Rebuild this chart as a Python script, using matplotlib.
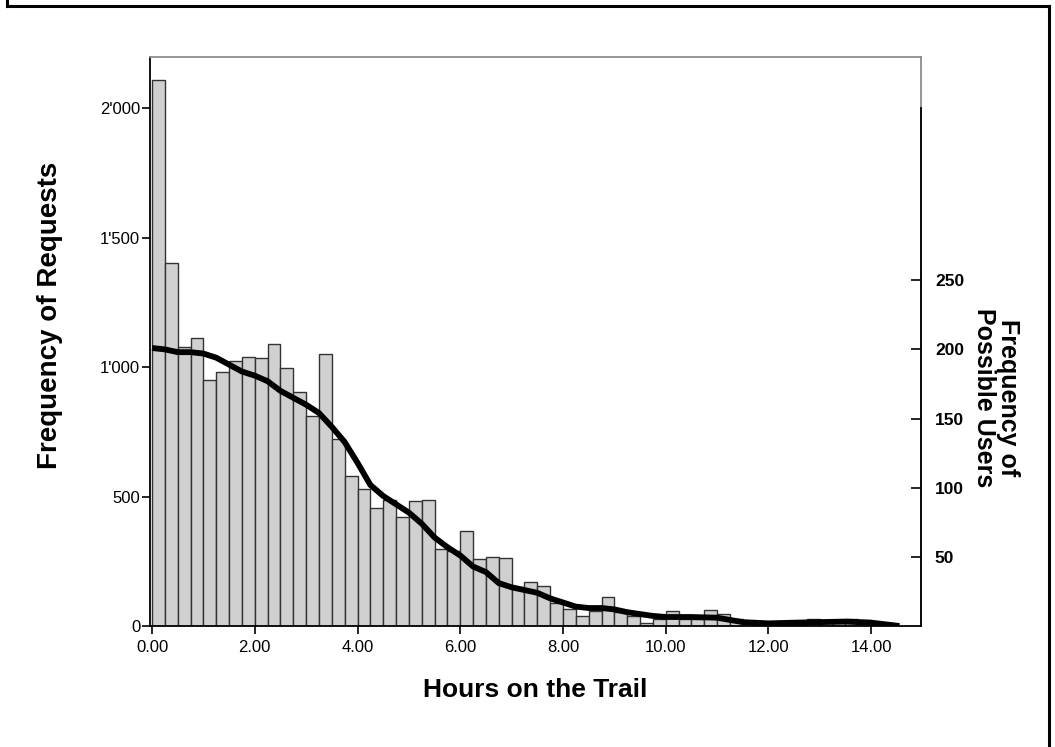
"""
Hours on the trail: histogram of requests with a curve of possible users
on a second axis (SPSS-style chart).
"""

import numpy as np
import matplotlib
matplotlib.use("Agg")
import matplotlib.pyplot as plt
from matplotlib.lines import Line2D
from matplotlib.ticker import FixedLocator, FixedFormatter

plt.rcParams["font.family"] = ["Liberation Sans", "DejaVu Sans"]

# ── Data ─────────────────────────────────────────────────────────────
BIN_WIDTH = 0.25
request_counts = [
    2107, 1401, 1078, 1112, 949, 979, 1025, 1039, 1035, 1088, 996, 903,
    811, 1051, 721, 580, 529, 454, 486, 419, 484, 486, 299, 290,
    368, 258, 268, 264, 150, 171, 153, 88, 64, 37, 58, 112,
    53, 39, 13, 28, 58, 28, 28, 60, 45, 26, 12, 6,
    4, 3, 5, 28, 25, 14, 28, 25, 10, 5,
]

user_hours = [
    0.0, 0.25, 0.5, 0.75, 1.0, 1.25, 1.5, 1.75, 2.0, 2.25, 2.5, 2.75,
    3.0, 3.25, 3.5, 3.75, 4.0, 4.25, 4.5, 4.75, 5.0, 5.25, 5.5, 5.75,
    6.0, 6.25, 6.5, 6.75, 7.0, 7.25, 7.5, 7.75, 8.0, 8.25, 8.5, 8.75,
    9.0, 9.25, 9.5, 9.75, 10.0, 10.5, 11.0, 11.5, 12.0, 12.5, 13.0, 13.5,
    14.0, 14.3, 14.55,
]
possible_users = [
    201, 200, 198, 198, 197, 194, 189, 184, 181, 177, 170, 165,
    160, 154, 144, 133, 118, 102, 94, 88, 82, 74, 64, 57,
    51, 43, 39, 31, 28, 26, 24, 20, 17, 14, 13, 13,
    12, 10, 8.6, 7.3, 6.5, 6.5, 6.0, 2.8, 1.9, 2.4, 2.8, 3.2,
    2.4, 1.1, 0.0,
]

x_ticks = [0, 2, 4, 6, 8, 10, 12, 14]
x_tick_labels = ["0.00", "2.00", "4.00", "6.00", "8.00", "10.00", "12.00", "14.00"]
left_ticks = [0, 500, 1000, 1500, 2000]
left_tick_labels = ["0", "500", "1'000", "1'500", "2'000"]
right_ticks = [50, 100, 150, 200, 250]
right_tick_labels = ["50", "100", "150", "200", "250"]

# ── Style ────────────────────────────────────────────────────────────
_BAR = "#d0d0d0"
_BAR_EDGE = "#333333"
_FRAME = "#8c8c8c"

W, H = 1055, 747
fig = plt.figure(figsize=(W / 100, H / 100), dpi=100, facecolor="white")
ax = fig.add_axes([150 / W, 1 - 626 / H, (921 - 150) / W, (626 - 57) / H])

bin_starts = np.arange(len(request_counts)) * BIN_WIDTH
ax.bar(bin_starts, request_counts, width=BIN_WIDTH, align="edge",
       color=_BAR, edgecolor=_BAR_EDGE, linewidth=1.0, zorder=2)

left_max = 2197
ax.set_xlim(-0.04, 14.97)
ax.set_ylim(0, left_max)

ax.xaxis.set_major_locator(FixedLocator(x_ticks))
ax.xaxis.set_major_formatter(FixedFormatter(x_tick_labels))
ax.yaxis.set_major_locator(FixedLocator(left_ticks))
ax.yaxis.set_major_formatter(FixedFormatter(left_tick_labels))
ax.tick_params(axis="both", direction="out", length=6, width=1.2,
               labelsize=12, color="black")
ax.tick_params(axis="x", pad=4)
ax.tick_params(axis="y", pad=1)

for side in ("left", "bottom"):
    ax.spines[side].set_color("black")
    ax.spines[side].set_linewidth(1.3)
for side in ("top", "right"):
    ax.spines[side].set_color(_FRAME)
    ax.spines[side].set_linewidth(1.3)

# secondary axis for possible users
ax2 = ax.twinx()
ax2.set_ylim(0, left_max * 50 / 267)
ax2.plot(user_hours, possible_users, color="black", linewidth=4.2,
         solid_capstyle="butt", zorder=3)
ax2.yaxis.set_major_locator(FixedLocator(right_ticks))
ax2.yaxis.set_major_formatter(FixedFormatter(right_tick_labels))
ax2.tick_params(axis="y", direction="in", length=7, width=1.2,
                labelsize=12.5, pad=10)
for lab in ax2.get_yticklabels():
    lab.set_fontweight("bold")
for side in ("left", "bottom", "top"):
    ax2.spines[side].set_visible(False)
ax2.spines["right"].set_color("black")
ax2.spines["right"].set_linewidth(1.3)
ax2.spines["right"].set_bounds(0, 2000 * 50 / 267)

# ── Labels ───────────────────────────────────────────────────────────
fig.text(50 / W, 1 - 315 / H, "Frequency of Requests", rotation=90,
         ha="center", va="center", fontsize=20, fontweight="bold")
fig.text(535 / W, 1 - 690 / H, "Hours on the Trail",
         ha="center", va="center", fontsize=19, fontweight="bold")
fig.text(996 / W, 1 - 398 / H, "Frequency of\nPossible Users", rotation=-90,
         ha="center", va="center", multialignment="center",
         fontsize=18, fontweight="bold", linespacing=1.0)

# outer frame (left, top, right)
for xs, ys in (([7, 7], [0, 6]), ([7, 1049], [6, 6]), ([1049, 1049], [6, 747])):
    fig.add_artist(Line2D([x / W for x in xs], [1 - y / H for y in ys],
                          color="black", linewidth=2.2,
                          transform=fig.transFigure))

fig.savefig("out.png", dpi=100, facecolor="white")
